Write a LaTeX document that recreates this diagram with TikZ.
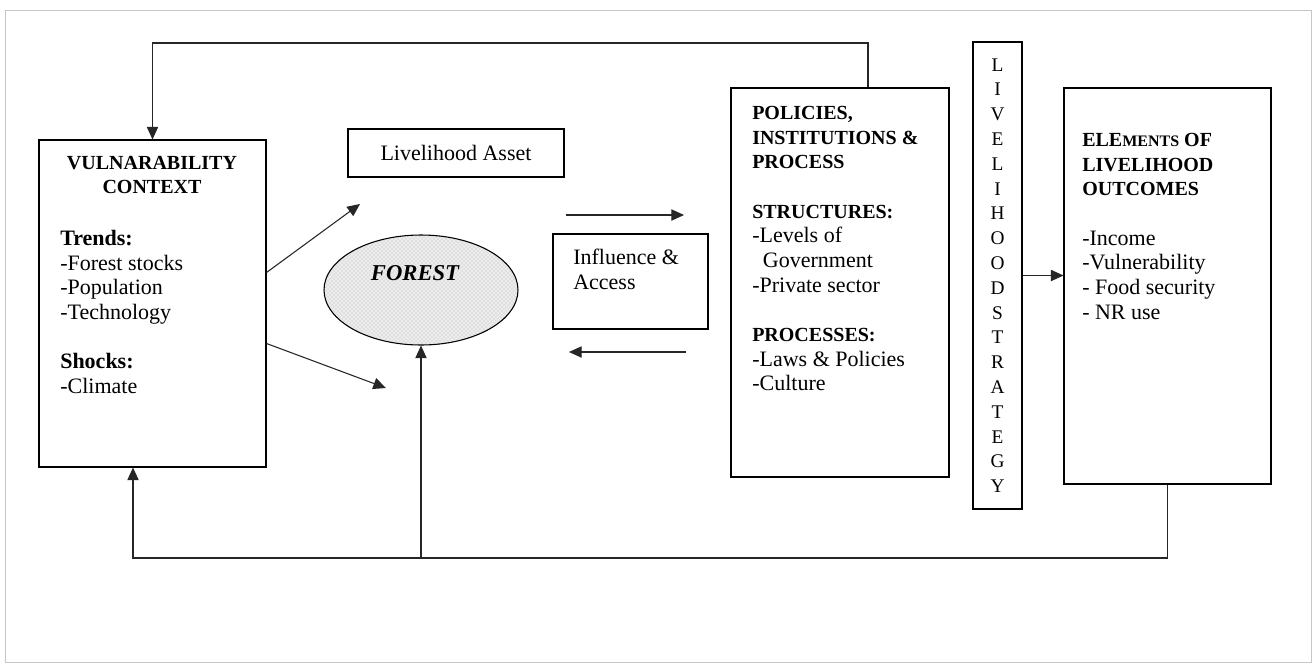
\documentclass[tikz,border=0pt]{standalone}
\usepackage{fontspec}
\setmainfont{Liberation Serif}
\usetikzlibrary{arrows.meta,fit,calc,patterns,shapes.geometric}

\newcommand{\hd}[1]{{\fontsize{15}{18.5}\selectfont\bfseries #1}}

\begin{document}
\begin{tikzpicture}[x=0.75pt, y=-0.75pt, >={Triangle[length=9.5pt,width=8.5pt]},
                    box/.style={draw, line width=0.8pt, inner sep=0pt},
                    txt/.style={inner sep=0pt, anchor=north west, align=left,
                                font=\fontsize{16.5}{18.5}\selectfont},
                    link/.style={draw=black!85, line width=0.8pt},
                    every edge/.style={link, ->}]

\useasboundingbox (0,0) rectangle (1316,665);
\draw[gray!45, line width=0.5pt] (5,10) rectangle (1311,662);

% boxes
\node[box, fit={(39,140) (266,467)}] (vc) {};
\node[box, fit={(348,129) (564,177)}] (asset) {};
\node[box, fit={(553,234) (708,329)}] (infl) {};
\node[box, fit={(731,88) (949,477)}] (pol) {};
\node[box, fit={(973,42) (1022,509)}] (ls) {};
\node[box, fit={(1064,88) (1271,484)}] (elem) {};
\node[ellipse, draw, line width=0.8pt, minimum width=145.5pt, minimum height=82.5pt,
      inner sep=0pt, preaction={fill=gray!15}, pattern=crosshatch dots,
      pattern color=gray!55] (forest) at (421,290) {};

% texts
\node[align=center, inner sep=0pt, font=\fontsize{15}{18.5}\selectfont\bfseries] (vchead)
  at (152,175) {VULNARABILITY\\CONTEXT};
\node[txt] (vcbody) at (60,230)
  {\textbf{Trends:}\\-Forest stocks\\-Population\\-Technology\\[18.5pt]
   \textbf{Shocks:}\\-Climate};
\node[txt, anchor=center] (assettxt) at (asset.center) {Livelihood Asset};
\node[inner sep=0pt, font=\fontsize{17}{18.5}\selectfont\bfseries\itshape] (foresttxt)
  at ($(forest.center)+(-6,-17)$) {FOREST};
\node[txt] (infltxt) at (573,249) {Influence \&\\Access};
\node[txt] (poltxt) at (752,106)
  {\hd{POLICIES,}\\ \hd{INSTITUTIONS \&}\\ \hd{PROCESS}\\[18.5pt]
   \hd{STRUCTURES:}\\-Levels of\\\hspace*{8pt}Government\\-Private sector\\[18.5pt]
   \hd{PROCESSES:}\\-Laws \& Policies\\-Culture};
\node[inner sep=0pt, align=center, font=\fontsize{14.5}{18.6}\selectfont] (lstxt) at (ls.center)
  {L\\I\\V\\E\\L\\I\\H\\O\\O\\D\\S\\T\\R\\A\\T\\E\\G\\Y};
\node[txt] (elemtxt) at (1082,133)
  {\hd{ELE{\fontsize{12}{18.5}\selectfont MENTS} OF}\\ \hd{LIVELIHOOD}\\ \hd{OUTCOMES}\\[18.5pt]
   -Income\\-Vulnerability\\- Food security\\- NR use};

% free ends
\coordinate (a1) at ($(vc.east)+(0,-31)$);
\coordinate (a1e) at (360,204);
\coordinate (a2) at ($(vc.east)+(0,40)$);
\coordinate (a2e) at (386,388);
\coordinate (r1) at (566,215);
\coordinate (r1e) at (684,215);
\coordinate (l1) at (686,352);
\coordinate (l1e) at (569,352);
\coordinate (topl) at (868,43);
\coordinate (base) at (133,558);

% connectors
\path (a1) edge (a1e)
      (a2) edge (a2e)
      (r1) edge (r1e)
      (l1) edge (l1e)
      (ls.east) edge (ls.east -| elem.west)
      (forest.south |- base) edge (forest.south);
\draw[link, ->] (topl |- pol.north) -- (topl) -| (vc.north);
\draw[link, ->] (elem.south) |- (base) -- (base |- vc.south);
\end{tikzpicture}
\end{document}
